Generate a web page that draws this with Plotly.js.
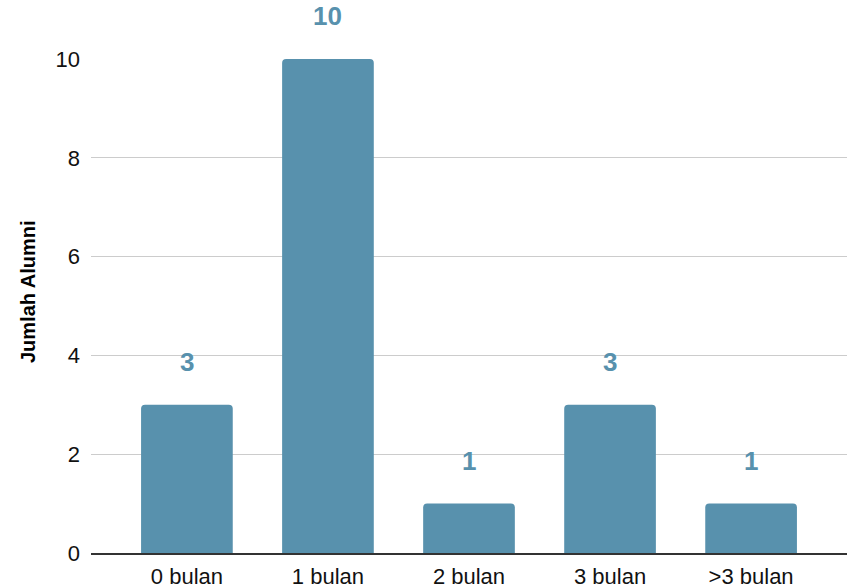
<!DOCTYPE html>
<html>
<head>
<meta charset="utf-8">
<script src="https://cdn.plot.ly/plotly-3.0.1.min.js"></script>
<style>html,body{margin:0;padding:0;background:#fff;}#chart{width:852px;height:588px;}</style>
</head>
<body>
<div id="chart"></div>
<script>
const categories = ["0 bulan", "1 bulan", "2 bulan", "3 bulan", ">3 bulan"];
const values = [3, 10, 1, 3, 1];
const yTicks = [0, 2, 4, 6, 8, 10];
const yTitle = "Jumlah Alumni";

const barColor = "#5891ad";

const trace = {
  type: "bar",
  x: categories,
  y: values,
  marker: { color: barColor, cornerradius: 4 },
  hoverinfo: "none"
};

const annotations = categories.map((c, i) => ({
  x: c, y: values[i], xref: "x", yref: "y",
  text: String(values[i]),
  showarrow: false, yanchor: "middle", yshift: 43,
  font: { family: "Arial, Liberation Sans, sans-serif", size: 26, color: barColor, weight: "bold" }
}));
annotations.push({
  xref: "paper", yref: "paper", x: 0, y: 0.5, xshift: -63, yshift: 14,
  xanchor: "center", yanchor: "middle", textangle: -90, showarrow: false,
  text: "<b>" + yTitle + "</b>",
  font: { family: "Arial, Liberation Sans, sans-serif", size: 20, color: "#000" }
});

const layout = {
  width: 852, height: 588,
  margin: { l: 91, r: 5, t: 59, b: 35 },
  paper_bgcolor: "#fff", plot_bgcolor: "#fff",
  bargap: 0.35,
  showlegend: false,
  font: { family: "Arial, Liberation Sans, sans-serif", color: "#000" },
  xaxis: {
    type: "category",
    range: [-0.68, 4.68],
    showgrid: false,
    showline: true, linecolor: "#333", linewidth: 1.5,
    zeroline: false,
    ticks: "", ticklabelstandoff: 3,
    tickfont: { size: 22, color: "#111" },
    fixedrange: true
  },
  yaxis: {
    range: [0, 10],
    tickvals: yTicks,
    ticktext: yTicks.map(String),
    showgrid: true, gridcolor: "#cccccc", gridwidth: 1.3,
    zeroline: false, showline: false,
    ticks: "", ticklabelstandoff: 10,
    tickfont: { size: 22, color: "#111" },
    fixedrange: true
  },
  annotations: annotations
};

Plotly.newPlot("chart", [trace], layout, { displayModeBar: false, staticPlot: true });
</script>
</body>
</html>
